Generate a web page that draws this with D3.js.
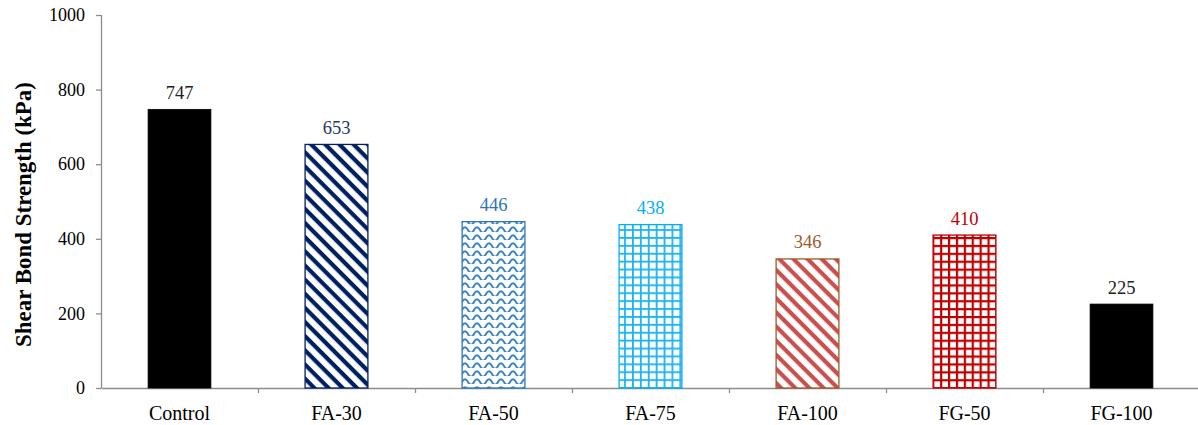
<!DOCTYPE html>
<html>
<head>
<meta charset="utf-8">
<script src="https://cdn.jsdelivr.net/npm/d3@7/dist/d3.min.js"></script>
<style>
  html, body { margin: 0; padding: 0; background: #fff; }
  svg { display: block; }
</style>
</head>
<body>
<svg id="chart" width="1198" height="425"></svg>
<script>
// Shear bond strength per mix
const categories = ["Control", "FA-30", "FA-50", "FA-75", "FA-100", "FG-50", "FG-100"];
const strengths = [747, 653, 446, 438, 346, 410, 225];
const yTicks = [0, 200, 400, 600, 800, 1000];
const fills = ["solid", "stripeNavy", "wave", "gridBlue", "stripeBrown", "gridRed", "solid"];
const labelColors = ["#222222", "#1f3864", "#2e75b6", "#00b0f0", "#9c5a2a", "#c00000", "#222222"];
const edgeColors = ["#000000", "#002060", "#2e75b6", "#00b0f0", "#9c5a2a", "#c00000", "#000000"];

const svg = d3.select("#chart");
const margin = { left: 101, right: -2, top: 15, bottom: 37 };
const W = 1198, H = 425;
const FONT = "'Liberation Serif', 'Times New Roman', serif";

const x = d3.scaleBand().domain(categories)
  .range([margin.left, W - margin.right]).paddingInner(0).paddingOuter(0);
const y = d3.scaleLinear().domain([0, 1000]).range([H - margin.bottom, margin.top]);

// Hatch patterns
const defs = svg.append("defs");

function stripes(id, color, bg) {
  const p = defs.append("pattern").attr("id", id)
    .attr("patternUnits", "userSpaceOnUse").attr("width", 10).attr("height", 10)
    .attr("patternTransform", "rotate(45)");
  p.append("rect").attr("width", 10).attr("height", 10).attr("fill", bg);
  p.append("rect").attr("x", 0).attr("y", 0).attr("width", 10).attr("height", 4.2).attr("fill", color);
}
stripes("stripeNavy", "#002060", "#ffffff");
stripes("stripeBrown", "#c9504f", "#ffffff");

function grid(id, color, cell, lw) {
  const p = defs.append("pattern").attr("id", id)
    .attr("patternUnits", "userSpaceOnUse").attr("width", cell).attr("height", cell);
  p.append("rect").attr("width", cell).attr("height", cell).attr("fill", "#fff");
  p.append("rect").attr("x", 0).attr("y", 0).attr("width", lw).attr("height", cell).attr("fill", color);
  p.append("rect").attr("x", 0).attr("y", 0).attr("width", cell).attr("height", lw).attr("fill", color);
}
grid("gridBlue", "#1ab4f0", 7.9, 1.8);
grid("gridRed", "#c00000", 7.9, 2.2);

(function wave() {
  const p = defs.append("pattern").attr("id", "wave")
    .attr("patternUnits", "userSpaceOnUse").attr("width", 12).attr("height", 8);
  p.append("rect").attr("width", 12).attr("height", 8).attr("fill", "#fff");
  p.append("path")
    .attr("d", "M-6,6 Q-3,0.5 0,6 T6,6 T12,6 T18,6")
    .attr("fill", "none").attr("stroke", "#3d85c6").attr("stroke-width", 2);
})();

// Axes
const gy = svg.append("g").attr("transform", `translate(${margin.left},0)`)
  .call(d3.axisLeft(y).tickValues(yTicks).tickFormat(d3.format("d")).tickSize(5).tickPadding(11));
const gx = svg.append("g").attr("transform", `translate(0,${H - margin.bottom})`)
  .call(d3.axisBottom(x).tickSize(0).tickPadding(18));

[[gy, 18], [gx, 20]].forEach(([g, fs]) => {
  g.attr("font-family", FONT).attr("font-size", fs);
  g.selectAll("path.domain").attr("stroke", "#8c8c8c").attr("stroke-width", 1.3);
  g.selectAll(".tick line").attr("stroke", "#8c8c8c").attr("stroke-width", 1.3);
  g.selectAll("text").attr("fill", "#000");
});
gy.select("path.domain").attr("d", `M0.5,${y(0)}V${y(1000)}`);

// Category divider ticks along the baseline
svg.append("g").selectAll("line")
  .data(categories.slice(1))
  .join("line")
  .attr("x1", d => Math.round(x(d)) + 0.5).attr("x2", d => Math.round(x(d)) + 0.5)
  .attr("y1", y(0)).attr("y2", y(0) + 5)
  .attr("stroke", "#8c8c8c").attr("stroke-width", 1.3);

// Bars
const barW = x.bandwidth() * 0.4;
const rows = categories.map((c, i) => ({ c, v: strengths[i], i }));
svg.append("g").selectAll("rect")
  .data(rows)
  .join("rect")
  .attr("x", d => x(d.c) + (x.bandwidth() - barW) / 2)
  .attr("y", d => y(d.v))
  .attr("width", barW)
  .attr("height", d => y(0) - y(d.v))
  .attr("fill", d => fills[d.i] === "solid" ? "#000" : `url(#${fills[d.i]})`)
  .attr("stroke", d => edgeColors[d.i])
  .attr("stroke-width", d => fills[d.i] === "solid" ? 0.8 : 1.3);

// Value labels
svg.append("g")
  .attr("font-family", FONT)
  .attr("font-size", 18.5)
  .selectAll("text")
  .data(rows)
  .join("text")
  .attr("x", d => x(d.c) + x.bandwidth() / 2)
  .attr("y", d => y(d.v) - 10.5)
  .attr("text-anchor", "middle")
  .attr("fill", d => labelColors[d.i])
  .text(d => d.v);

// Y axis title, sized to span the plot's middle section
const title = svg.append("text")
  .attr("transform", `translate(31,${(y(0) + y(1000)) / 2 + 13}) rotate(-90)`)
  .attr("text-anchor", "middle")
  .attr("font-family", FONT)
  .attr("font-size", 20)
  .attr("font-weight", "bold")
  .attr("fill", "#000")
  .text("Shear Bond Strength (kPa)");
const len20 = title.node().getComputedTextLength();
title.attr("font-size", Math.min(24, 20 * 265 / len20));
</script>
</body>
</html>
